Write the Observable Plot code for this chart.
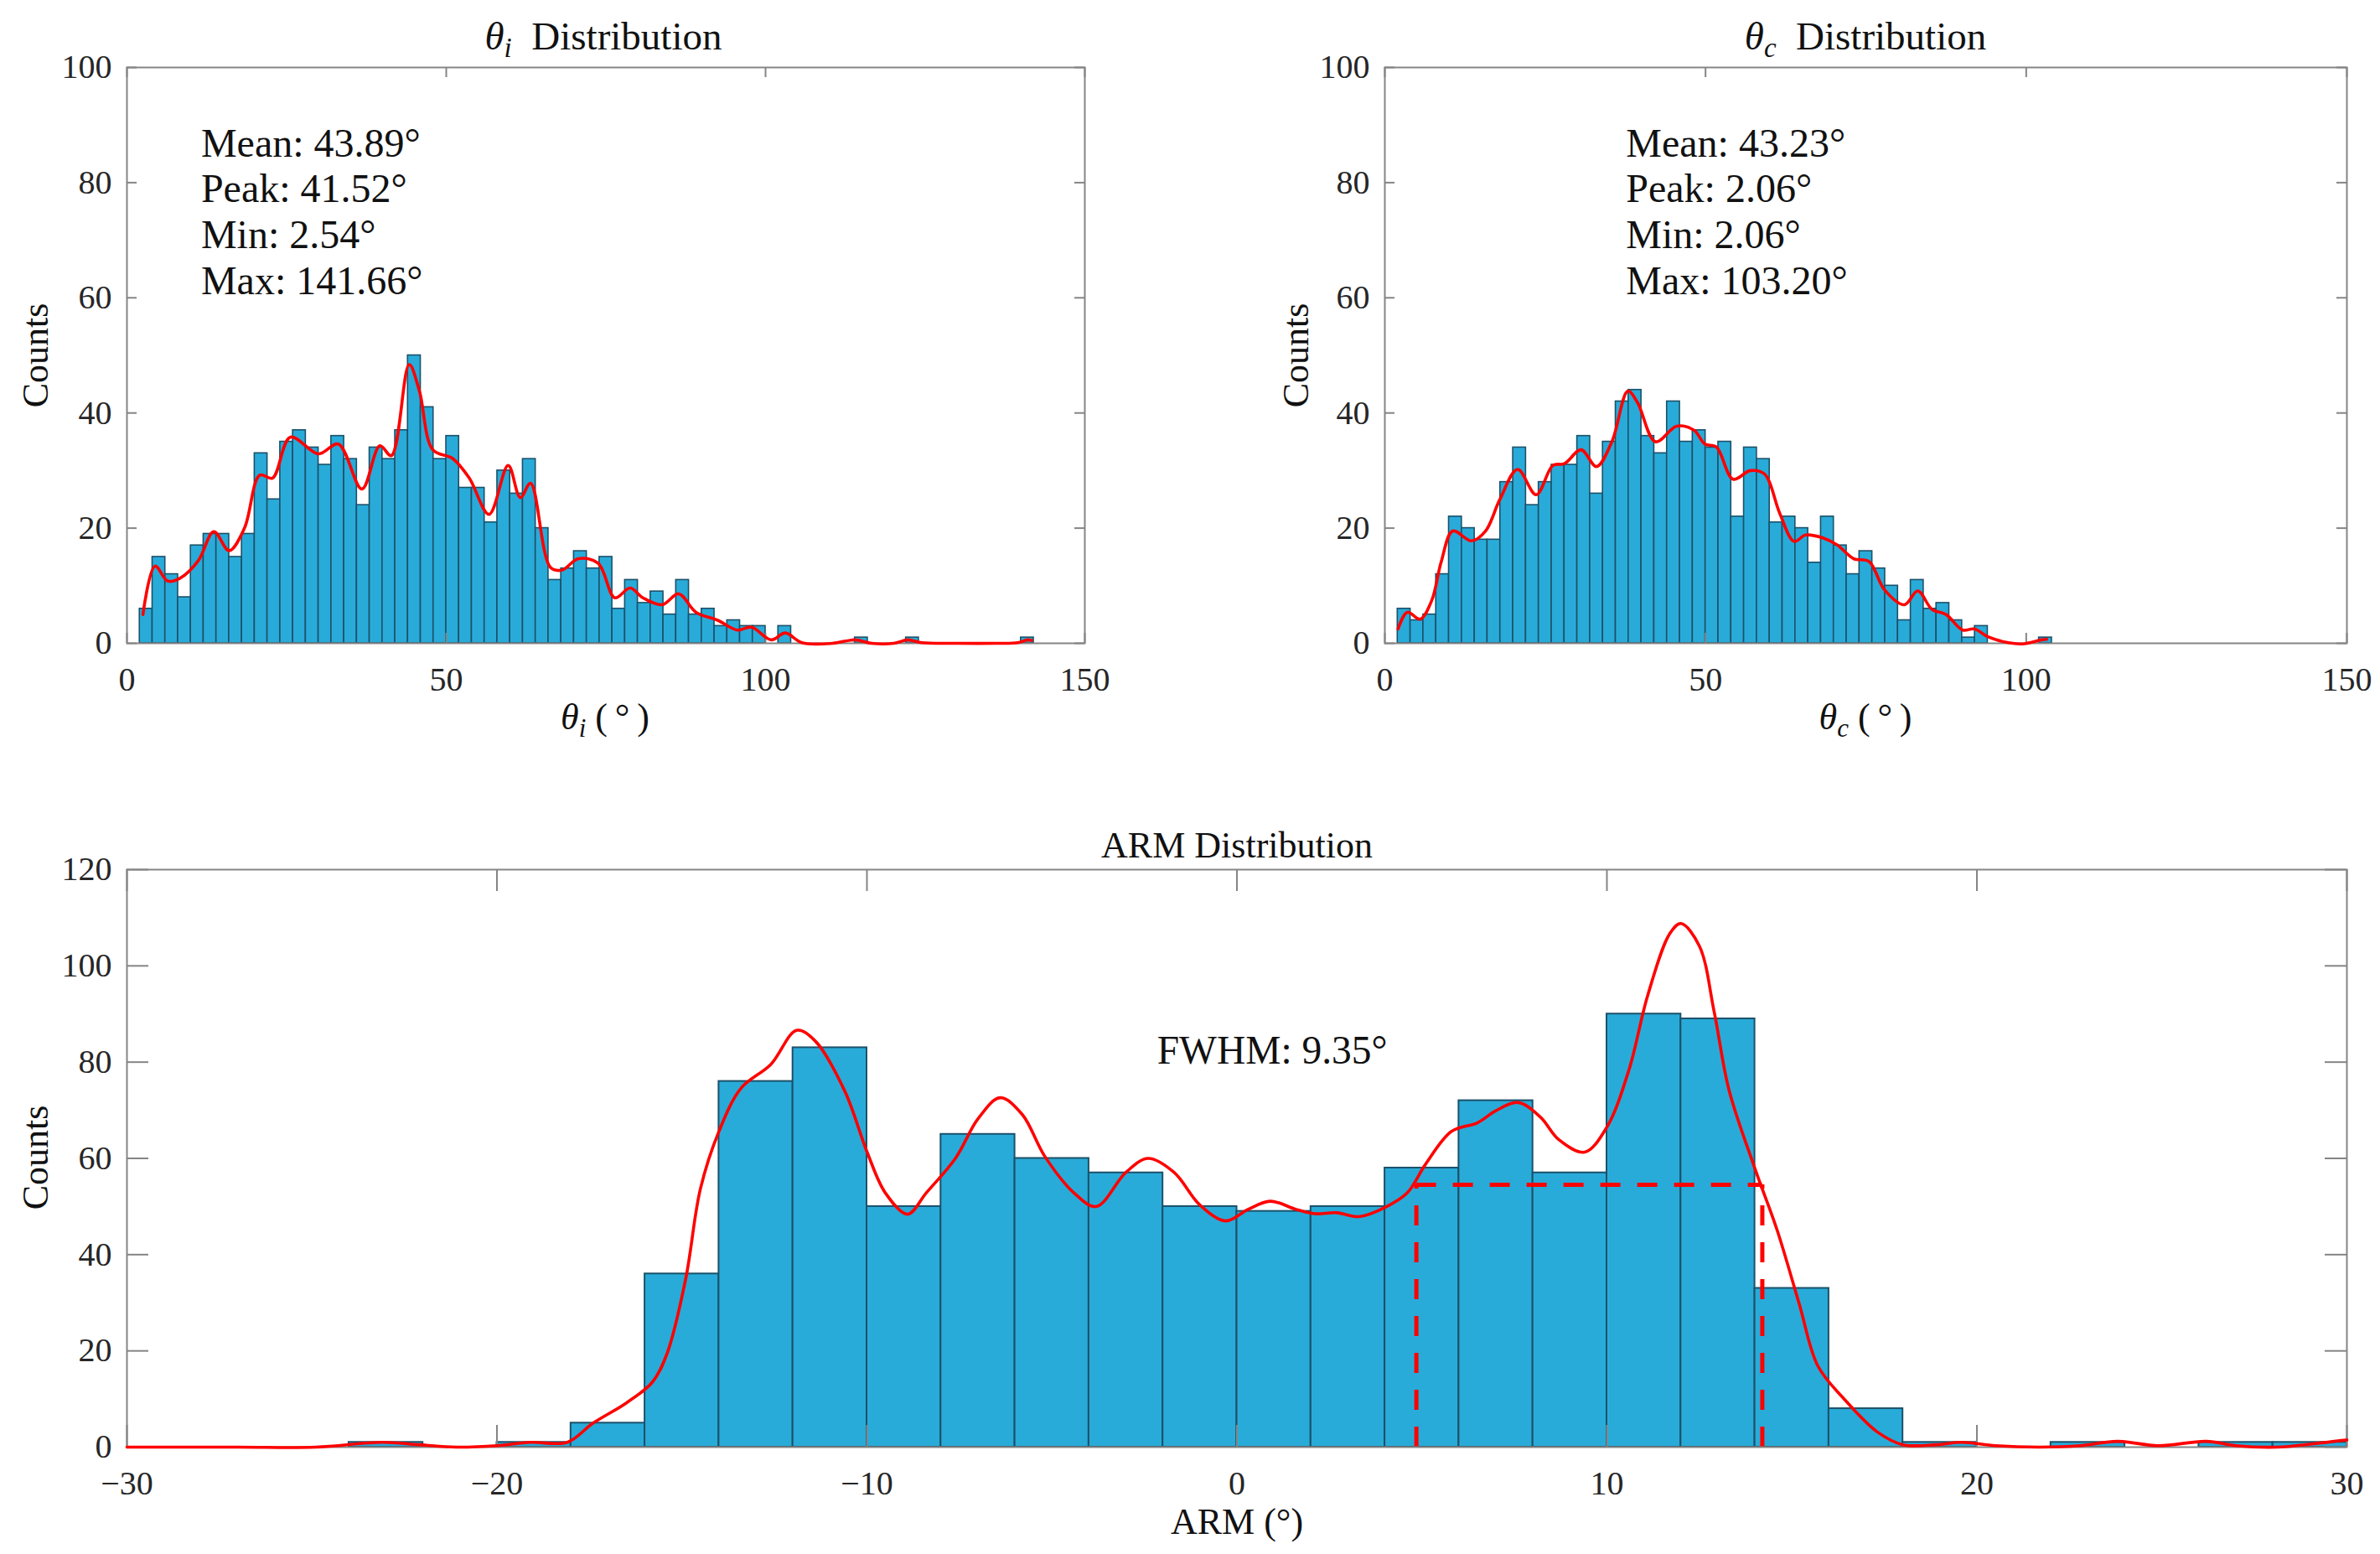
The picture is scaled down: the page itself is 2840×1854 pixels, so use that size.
<!DOCTYPE html>
<html><head><meta charset="utf-8">
<script src="https://cdn.jsdelivr.net/npm/d3@7"></script>
<script src="https://cdn.jsdelivr.net/npm/@observablehq/plot@0.6"></script>
<style>
html,body{margin:0;padding:0;background:#fff;}
#root{position:relative;width:2840px;height:1854px;background:#fff;overflow:hidden;}
.panel{position:absolute;}
#overlay{position:absolute;left:0;top:0;pointer-events:none;}
</style></head><body><div id="root"></div>
<script>
// ---------- data ----------
// theta_i histogram: bins of width 2 starting at 2
const thetaIBinStart = 2;
const thetaIBinWidth = 2;
const thetaICounts = [6,15,12,8,17,19,19,15,19,33,25,35,37,34,31,36,32,24,34,32,37,50,41,32,36,27,27,21,30,26,32,20,
  11,13,16,13,15,6,11,7,9,5,11,5,6,3,4,3,3,0,3,
  0,0,0,0,0,1,0,0,0,1,0,0,0,0,0,0,0,0,1];
const thetaIKde = [[2.5,5.0],[4.4,13.4],[6.4,10.8],[8.3,11.3],[11.2,14.4],[13.6,19.4],[16.0,16.1],[18.4,20],[20.8,29.2],[22.8,28.7],[25.6,35.8],[30.0,32.9],[33.1,34.6],[36.8,26.8],[39.6,34.3],[41.4,32.6],[44.2,48.4],[45.8,43.8],[47.9,33.6],[51.0,32.1],[53.6,28.7],[56.7,22.4],[59.7,30.9],[61.6,25.3],[63.2,27.8],[66.3,13.2],[68.1,12.7],[70.7,14.7],[73.8,13.9],[76.4,7.9],[78.8,9.6],[80.8,7.9],[83.8,6.7],[86.4,8.6],[89.1,5.4],[92.5,4.0],[95.6,2.3],[97.8,2.8],[100.9,0.6],[103.1,1.8],[105.7,0.1],[110.5,0],[114.0,0.6],[116.6,0],[120.1,0],[122.3,0.6],[124.5,0.1],[130,0],[136,0],[139.5,0.1],[141,0.6],[141.66,0.5]];
const thetaIStats = ["Mean: 43.89°","Peak: 41.52°","Min: 2.54°","Max: 141.66°"];

// theta_c histogram
const thetaCBinStart = 2;
const thetaCBinWidth = 2;
const thetaCCounts = [6,4,5,12,22,20,18,18,28,34,24,28,31,31,36,26,35,42,44,36,33,42,35,37,34,35,22,34,32,21,22,20,
  14,22,17,12,16,13,10,4,11,6,7,4,1,3,0,0,0,0,1];
const thetaCKde = [[2.06,2.5],[3.5,5.4],[5.5,4.2],[7.3,7.4],[8.8,14.2],[10.6,19.5],[13.5,17.8],[15.7,19.5],[17.9,24.9],[20.7,30.2],[23.6,25.8],[26.2,30.9],[28.0,31.2],[30.6,33.6],[33.0,30.7],[35.4,35.0],[37.9,43.8],[39.4,41.8],[42.2,35.0],[45.5,37.7],[48.2,37.0],[49.9,34.6],[51.7,34.1],[54.3,28.5],[57.0,30.0],[59.2,29.4],[61.6,22.5],[63.8,17.7],[65.6,18.8],[68.3,18.3],[70.5,17.1],[73.1,14.7],[75.5,14.2],[77.9,9.3],[81.0,6.7],[83.1,9.1],[85.3,5.9],[87.5,5.0],[90.1,2.3],[91.9,2.5],[94.1,1.1],[97.2,0.1],[99.4,-0.1],[102.4,0.6],[103.2,0.7]];
const thetaCStats = ["Mean: 43.23°","Peak: 2.06°","Min: 2.06°","Max: 103.20°"];

// ARM histogram
const armBinStart = -30;
const armBinWidth = 2;
const armCounts = [0,0,0,1,0,1,5,36,76,83,50,65,60,57,50,49,50,58,72,57,90,89,33,8,1,0,1,0,1,1];
const armKde = [[-30,0],[-27,0],[-24.9,0],[-23.1,1.0],[-22.1,0.5],[-21.1,0],[-20,0.3],[-19.1,1.0],[-18.1,1.0],[-17.4,5.0],[-16.5,9.2],[-15.8,13.5],[-15.4,19.5],[-14.9,34.9],[-14.5,53.7],[-14.0,65.6],[-13.4,74.6],[-12.6,79.5],[-11.9,86.6],[-11.4,84.4],[-10.6,74],[-10.0,61.4],[-9.5,52.8],[-8.9,48.4],[-8.4,52.8],[-7.6,60.1],[-7.0,68.2],[-6.4,72.6],[-5.8,69.1],[-5.2,60.5],[-4.4,52.8],[-3.8,50.0],[-3.0,57.1],[-2.4,60.0],[-1.7,57.1],[-1.0,50.3],[-0.3,47.0],[0.3,49.4],[0.9,51.1],[1.6,49.4],[2.1,48.5],[2.7,48.7],[3.3,47.9],[4.0,49.8],[4.6,52.8],[5.1,58.8],[5.8,65.6],[6.5,67.4],[7.0,69.9],[7.6,71.6],[8.2,68.6],[8.7,63.9],[9.4,61.3],[10.0,66.5],[10.6,78.5],[11.1,93.8],[11.7,106.7],[12.0,108.8],[12.5,104.1],[12.9,90.4],[13.3,74.2],[14.0,57.9],[14.6,45.1],[15.2,29.7],[15.7,16.9],[16.4,10.1],[17.3,3.2],[18.0,0.5],[18.9,0.5],[19.6,1.0],[20.5,0.3],[21.7,0],[22.8,0.3],[23.8,1.2],[24.9,0.3],[26.2,1.2],[27.0,0.3],[28.1,0],[29.1,0.7],[30,1.5]];
const fwhmLeft = 4.85;
const fwhmRight = 14.2;
const halfMax = 54.5;
const fwhmLabel = "FWHM: 9.35°";

// tick labels
const thetaXTicks = [0,50,100,150];
const thetaYTicks = [0,20,40,60,80,100];
const armXTicks = [-30,-20,-10,0,10,20,30];
const armYTicks = [0,20,40,60,80,100,120];

// ---------- drawing ----------
const axisColor = "#858585";
const barFill = "#29abd9";
const barStroke = "#1c5169";
const red = "#ff0000";
const fontFamily = '"Liberation Serif", "Times New Roman", serif';
const root = document.getElementById("root");

const fmt = d => d < 0 ? "\u2212" + Math.abs(d) : String(d);

function makeBars(start, width, counts) {
  return counts.map((c, i) => ({x1: start + i * width, x2: start + (i + 1) * width, y: c})).filter(d => d.y > 0);
}

function panel(o) {
  const plotW = o.width - o.ml - o.mr;
  const plotH = o.height - o.mt - o.mb;
  const tl = o.tickLen;
  const marks = [
    Plot.rectY(o.bars, {x1: "x1", x2: "x2", y: "y", fill: barFill, stroke: barStroke, strokeWidth: o.barStrokeWidth}),
    ...(o.before || []),
    Plot.frame({stroke: axisColor, strokeWidth: 2}),
    Plot.ruleX(o.xTicks, {stroke: axisColor, strokeWidth: 2, insetTop: plotH - tl}),
    Plot.ruleX(o.xTicks, {stroke: axisColor, strokeWidth: 2, insetBottom: plotH - tl}),
    Plot.ruleY(o.yTicks, {stroke: axisColor, strokeWidth: 2, insetRight: plotW - tl}),
    Plot.ruleY(o.yTicks, {stroke: axisColor, strokeWidth: 2, insetLeft: plotW - tl}),
    Plot.line(o.kde, {x: d => d[0], y: d => d[1], stroke: red, strokeWidth: 3.6, curve: "catmull-rom"}),
    ...(o.after || [])
  ];
  const svg = Plot.plot({
    width: o.width, height: o.height,
    marginLeft: o.ml, marginRight: o.mr, marginTop: o.mt, marginBottom: o.mb,
    style: {fontFamily, fontSize: "40px", color: "#262626", background: "transparent", overflow: "visible"},
    x: {domain: o.xDomain, ticks: o.xTicks, tickSize: 0, tickPadding: 28, tickFormat: fmt, label: null},
    y: {domain: o.yDomain, ticks: o.yTicks, tickSize: 0, tickPadding: 18, tickFormat: fmt, label: null},
    marks
  });
  svg.classList.add("panel");
  svg.style.left = o.left + "px";
  svg.style.top = o.top + "px";
  root.appendChild(svg);
}

function statsText(lines, x, y) {
  return Plot.text([lines.join("\n")], {x: x, y: y, text: d => d, textAnchor: "start", lineAnchor: "top", lineHeight: 1.14, fontSize: 48, fill: "#111"});
}

panel({
  left: 0, top: 0, width: 1420, height: 927, ml: 151, mr: 126, mt: 80, mb: 160,
  xDomain: [0, 150], yDomain: [0, 100], xTicks: thetaXTicks, yTicks: thetaYTicks, tickLen: 12,
  bars: makeBars(thetaIBinStart, thetaIBinWidth, thetaICounts), kde: thetaIKde, barStrokeWidth: 1.6,
  after: [statsText(thetaIStats, 11.6, 90.2)]
});

panel({
  left: 1420, top: 0, width: 1420, height: 927, ml: 232, mr: 40, mt: 80, mb: 160,
  xDomain: [0, 150], yDomain: [0, 100], xTicks: thetaXTicks, yTicks: thetaYTicks, tickLen: 12,
  bars: makeBars(thetaCBinStart, thetaCBinWidth, thetaCCounts), kde: thetaCKde, barStrokeWidth: 1.6,
  after: [statsText(thetaCStats, 37.6, 90.2)]
});

panel({
  left: 0, top: 927, width: 2840, height: 927, ml: 151, mr: 40, mt: 110, mb: 128,
  xDomain: [-30, 30], yDomain: [0, 120], xTicks: armXTicks, yTicks: armYTicks, tickLen: 26,
  bars: makeBars(armBinStart, armBinWidth, armCounts), kde: armKde, barStrokeWidth: 2,
  before: [
    Plot.ruleX([fwhmLeft, fwhmRight], {y1: 0, y2: halfMax, stroke: red, strokeWidth: 5, strokeDasharray: "24,20"}),
    Plot.ruleY([halfMax], {x1: fwhmLeft, x2: fwhmRight, stroke: red, strokeWidth: 5, strokeDasharray: "24,20"})
  ],
  after: [Plot.text([fwhmLabel], {x: -2.16, y: 82.4, text: d => d, textAnchor: "start", lineAnchor: "middle", fontSize: 47.5, fill: "#111"})]
});

// ---------- titles and axis labels ----------
const overlay = d3.select(root).append("svg").attr("id", "overlay")
  .attr("width", 2840).attr("height", 1854)
  .style("font-family", fontFamily).style("font-size", "44px").attr("fill", "#111");

function thetaText(x, y, sub, rest, size) {
  const t = overlay.append("text").attr("x", x).attr("y", y).attr("text-anchor", "middle").style("font-size", size + "px");
  t.append("tspan").attr("font-style", "italic").text("θ");
  t.append("tspan").attr("font-style", "italic").style("font-size", Math.round(size * 0.7) + "px").attr("dy", Math.round(size * 0.2)).text(sub);
  t.append("tspan").attr("dy", -Math.round(size * 0.2)).text(rest);
}
function plainText(x, y, s, rotate) {
  const t = overlay.append("text").attr("text-anchor", "middle").text(s);
  if (rotate) t.attr("transform", `translate(${x},${y}) rotate(-90)`);
  else t.attr("x", x).attr("y", y);
}

thetaText(720, 59, "i", "\u2002Distribution", 47);
thetaText(2226, 59, "c", "\u2002Distribution", 47);
plainText(1476, 1023, "ARM Distribution");
thetaText(722, 870, "i", "  (\u2009°\u2009)", 44);
thetaText(2226, 870, "c", "  (\u2009°\u2009)", 44);
plainText(1476, 1830, "ARM (°)");
plainText(57, 424, "Counts", true);
plainText(1561, 424, "Counts", true);
plainText(57, 1381, "Counts", true);
</script>
</body></html>
